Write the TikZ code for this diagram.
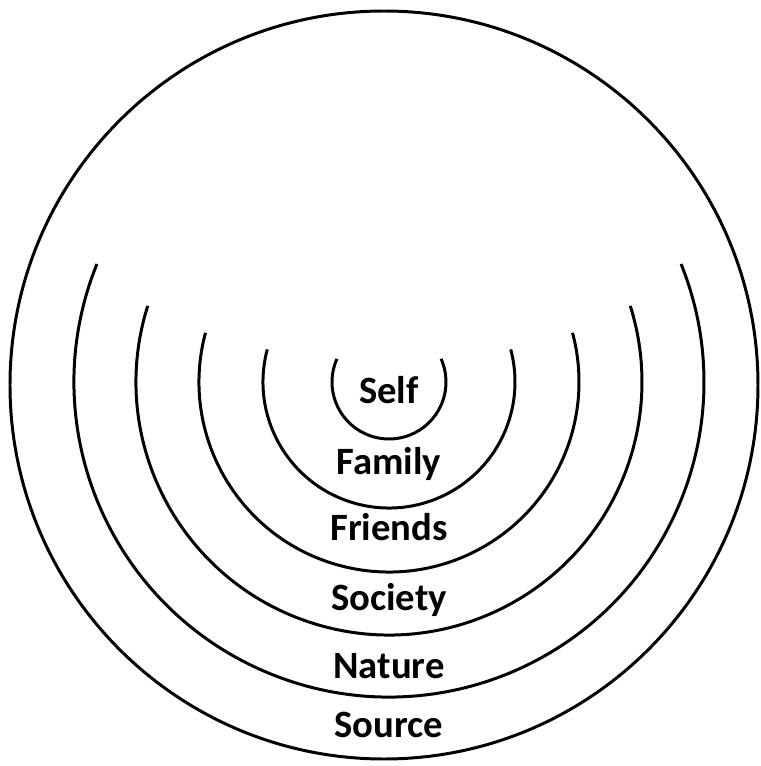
\documentclass[tikz,border=0pt]{standalone}
\usepackage{fontspec}
\setmainfont{Carlito}

\begin{document}
\begin{tikzpicture}[ring/.style={line width=1.7pt},
  lab/.style={anchor=base,font=\fontsize{22}{26}\selectfont\bfseries}]
  \useasboundingbox (-7.78,-7.68) rectangle (7.42,7.64);
  \draw[ring] (-0.1,-0.06) circle[radius=7.48];
  \draw[ring] (156:1.14) arc (156:384:1.14);
  \draw[ring] (165:2.52) arc (165:375:2.52);
  \draw[ring] (165:3.80) arc (165:375:3.80);
  \draw[ring] (162.5:5.06) arc (162.5:377.5:5.06);
  \draw[ring] (158:6.30) arc (158:382:6.30);
  \node[lab] (self) at (0,-0.42) {Self};
  \node[lab] (family) at (0,-1.84) {Family};
  \node[lab] (friends) at (0,-3.16) {Friends};
  \node[lab] (society) at (0,-4.56) {Society};
  \node[lab] (nature) at (0,-5.92) {Nature};
  \node[lab] (source) at (0,-7.10) {Source};
\end{tikzpicture}
\end{document}
